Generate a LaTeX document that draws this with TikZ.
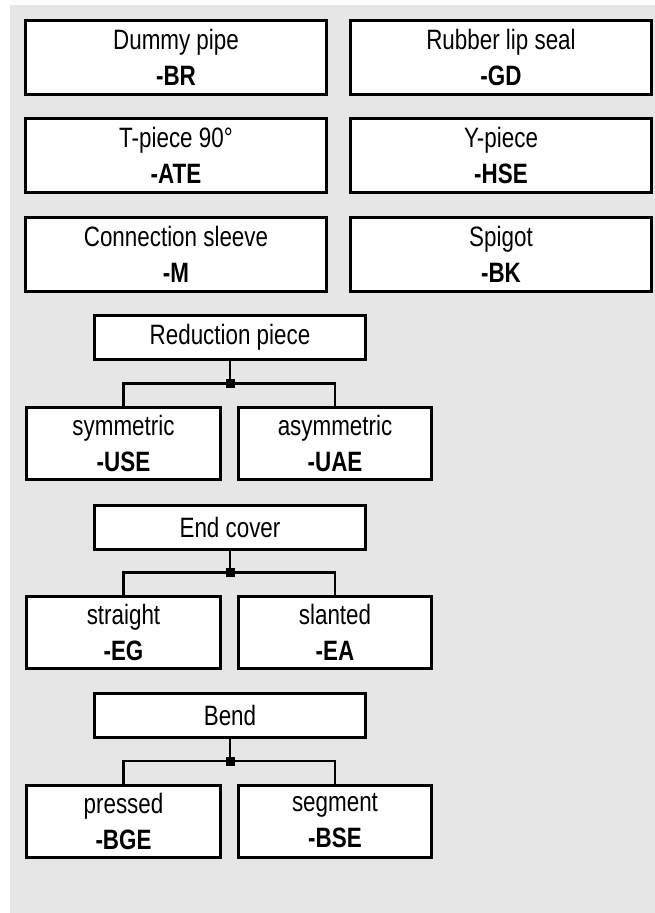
\documentclass[tikz,border=0pt]{standalone}
\usepackage{fontspec}
\setmainfont{Liberation Sans}[FakeStretch=0.8]
\usetikzlibrary{positioning, calc}
\definecolor{panel}{HTML}{E6E6E6}

\begin{document}
\begin{tikzpicture}[
		x=1pt, y=-1pt,
		part/.style={draw=black, line width=3pt, fill=white, align=center, inner sep=0pt,
			minimum width=301pt, minimum height=74pt, font=\fontsize{28}{36}\selectfont},
		family/.style={part, minimum width=271pt, minimum height=44pt},
		variant/.style={part, minimum width=194pt, minimum height=72pt},
		link/.style={line width=2.2pt},
		knot/.style={fill=black, minimum size=9pt, inner sep=0pt}
		]
		
		% --- page and grey panel ---
		\useasboundingbox (0,0) rectangle (655,913);
		\fill[panel] (10,5) rectangle (655,913);
		
		% --- single parts, two columns ---
		\node[part] (dummy) at (176, 57.5) {Dummy pipe\\\textbf{-BR}};
		\node[part] (seal) at (501, 57.5) {Rubber lip seal\\\textbf{-GD}};
		\node[part] (tpiece) at (176, 155.5) {T-piece 90°\\\textbf{-ATE}};
		\node[part] (ypiece) at (501, 155.5) {Y-piece\\\textbf{-HSE}};
		\node[part] (sleeve) at (176, 254) {Connection sleeve\\\textbf{-M}};
		\node[part] (spigot) at (501, 254) {Spigot\\\textbf{-BK}};
		
		% --- Reduction piece ---
		\node[family] (reduction) at (230, 337.5) {Reduction piece};
		\node[variant] (sym) at (123.5, 443.5) {symmetric\\\textbf{-USE}};
		\node[variant, minimum width=193pt] (asym) at (335, 443.5) {asymmetric\\\textbf{-UAE}};
		\coordinate (redj) at ($(reduction.south)!0.5!(sym.north -| reduction.south)$);
		\draw[link] (reduction.south) -- (redj);
		\draw[link] (sym.north) |- (redj) -| (asym.north);
		\node[knot] at (redj) {};
		
		% --- End cover ---
		\node[family] (endcover) at (230, 527) {End cover};
		\node[variant] (straight) at (123.5, 632) {straight\\\textbf{-EG}};
		\node[variant, minimum width=193pt] (slanted) at (335, 632) {slanted\\\textbf{-EA}};
		\coordinate (endj) at ($(endcover.south)!0.5!(straight.north -| endcover.south)$);
		\draw[link] (endcover.south) -- (endj);
		\draw[link] (straight.north) |- (endj) -| (slanted.north);
		\node[knot] at (endj) {};
		
		% --- Bend ---
		\node[family] (bend) at (230, 715.5) {Bend};
		\node[variant] (pressed) at (123.5, 821) {pressed\\\textbf{-BGE}};
		\node[variant, minimum width=193pt] (segment) at (335, 821) {segment\\\textbf{-BSE}};
		\coordinate (bendj) at ($(bend.south)!0.5!(pressed.north -| bend.south)$);
		\draw[link] (bend.south) -- (bendj);
		\draw[link] (pressed.north) |- (bendj) -| (segment.north);
		\node[knot] at (bendj) {};
		
	\end{tikzpicture}
\end{document}
